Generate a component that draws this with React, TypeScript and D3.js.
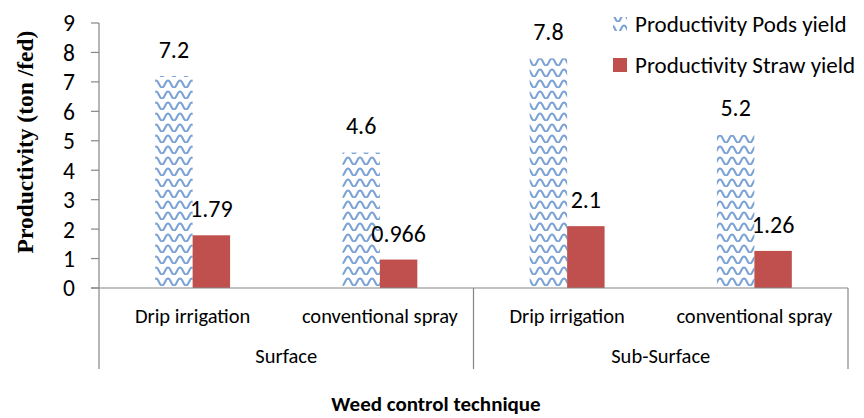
import React, { useEffect, useRef } from "react";
import * as d3 from "d3";

const categories = ["Drip irrigation", "conventional spray", "Drip irrigation", "conventional spray"];
const groups = ["Surface", "Sub-Surface"];
const podsYield = [7.2, 4.6, 7.8, 5.2];
const strawYield = [1.79, 0.966, 2.1, 1.26];
const podsLabels = ["7.2", "4.6", "7.8", "5.2"];
const strawLabels = ["1.79", "0.966", "2.1", "1.26"];
const yTicks = [0, 1, 2, 3, 4, 5, 6, 7, 8, 9];
const seriesNames = ["Productivity Pods yield", "Productivity Straw yield"];

const W = 864;
const H = 418;
const FONT = "Carlito, Lato, 'Open Sans', sans-serif";

export default function App() {
  const ref = useRef<SVGSVGElement>(null);

  useEffect(() => {
    document.body.style.margin = "0";
    const svg = d3.select(ref.current);
    svg.selectAll("*").remove();

    const left = 99, right = 848, top = 23, bottom = 288, axisBottom = 369;
    const y = d3.scaleLinear().domain([0, 9]).range([bottom, top]);
    const x = d3.scaleBand<number>().domain(d3.range(categories.length)).range([left, right]).padding(0);
    const bw = x.bandwidth() / 5;

    const defs = svg.append("defs");
    const pat = defs.append("pattern")
      .attr("id", "wave")
      .attr("patternUnits", "userSpaceOnUse")
      .attr("width", 12)
      .attr("height", 11);
    pat.append("rect").attr("width", 12).attr("height", 11).attr("fill", "#fff");
    pat.append("path")
      .attr("d", "M-3,7 Q0,0 3,7 T9,7 T15,7")
      .attr("fill", "none")
      .attr("stroke", "#7ba2d4")
      .attr("stroke-width", 2);

    const axisColor = "#868686";

    // bars
    const g = svg.append("g");
    g.selectAll("rect.pods")
      .data(podsYield)
      .join("rect")
      .attr("class", "pods")
      .attr("x", (_, i) => x(i)! + x.bandwidth() / 2 - bw)
      .attr("y", d => y(d))
      .attr("width", bw)
      .attr("height", d => y(0) - y(d))
      .attr("fill", "url(#wave)");
    g.selectAll("rect.straw")
      .data(strawYield)
      .join("rect")
      .attr("class", "straw")
      .attr("x", (_, i) => x(i)! + x.bandwidth() / 2)
      .attr("y", d => y(d))
      .attr("width", bw)
      .attr("height", d => y(0) - y(d))
      .attr("fill", "#c0504d");

    // data labels
    g.selectAll("text.pl")
      .data(podsYield)
      .join("text")
      .attr("x", (_, i) => x(i)! + x.bandwidth() / 2 - bw / 2)
      .attr("y", d => y(d) - 18.5)
      .attr("text-anchor", "middle")
      .attr("font-family", FONT)
      .attr("font-size", 24)
      .attr("fill", "#000")
      .text((_, i) => podsLabels[i]);
    g.selectAll("text.sl")
      .data(strawYield)
      .join("text")
      .attr("x", (_, i) => x(i)! + x.bandwidth() / 2 + bw / 2)
      .attr("y", d => y(d) - 18)
      .attr("text-anchor", "middle")
      .attr("font-family", FONT)
      .attr("font-size", 24)
      .attr("fill", "#000")
      .text((_, i) => strawLabels[i]);

    // y axis
    const ya = svg.append("g").attr("transform", `translate(${left},0)`);
    ya.append("line").attr("x1", 0).attr("x2", 0).attr("y1", top).attr("y2", axisBottom).attr("stroke", axisColor).attr("stroke-width", 1.2);
    ya.selectAll("line.t").data(yTicks).join("line")
      .attr("class", "t")
      .attr("x1", -8).attr("x2", 0).attr("y1", d => y(d)).attr("y2", d => y(d))
      .attr("stroke", axisColor).attr("stroke-width", 1.2);
    ya.selectAll("text").data(yTicks).join("text")
      .attr("x", -24).attr("y", d => y(d)).attr("dy", "0.36em")
      .attr("text-anchor", "end")
      .attr("font-family", FONT).attr("font-size", 23.5).attr("fill", "#000")
      .text(d => String(d));

    // x axis
    svg.append("line").attr("x1", left - 8).attr("x2", right).attr("y1", bottom).attr("y2", bottom).attr("stroke", axisColor).attr("stroke-width", 1.2);
    const mid = x(2)!;
    [mid, right].forEach(px => {
      svg.append("line").attr("x1", px).attr("x2", px).attr("y1", bottom).attr("y2", axisBottom).attr("stroke", axisColor).attr("stroke-width", 1.2);
    });
    svg.selectAll("text.cat").data(categories).join("text")
      .attr("class", "cat")
      .attr("x", (_, i) => x(i)! + x.bandwidth() / 2)
      .attr("y", 323)
      .attr("text-anchor", "middle")
      .attr("font-family", FONT).attr("font-size", 20.5).attr("fill", "#000")
      .text(d => d);
    svg.selectAll("text.grp").data(groups).join("text")
      .attr("class", "grp")
      .attr("x", (_, i) => (x(i * 2)! + x(i * 2 + 1)! + x.bandwidth()) / 2)
      .attr("y", 363)
      .attr("text-anchor", "middle")
      .attr("font-family", FONT).attr("font-size", 20.5).attr("fill", "#000")
      .text(d => d);

    // axis titles
    svg.append("text")
      .attr("transform", `translate(33,142) rotate(-90)`)
      .attr("text-anchor", "middle")
      .attr("font-family", "'Liberation Serif', 'DejaVu Serif', serif")
      .attr("font-weight", "bold")
      .attr("font-size", 23.5)
      .attr("fill", "#000")
      .text("Productivity (ton /fed)");
    svg.append("text")
      .attr("x", 436).attr("y", 411)
      .attr("text-anchor", "middle")
      .attr("font-family", FONT)
      .attr("font-weight", "bold")
      .attr("font-size", 21)
      .attr("fill", "#000")
      .text("Weed control technique");

    // legend
    const lg = svg.append("g");
    const items = [
      { name: seriesNames[0], fill: "url(#wave)", y: 17, base: 32 },
      { name: seriesNames[1], fill: "#c0504d", y: 58, base: 72.5 },
    ];
    items.forEach(it => {
      lg.append("rect").attr("x", 613).attr("y", it.y).attr("width", 14).attr("height", 14).attr("fill", it.fill);
      lg.append("text").attr("x", 635).attr("y", it.base)
        .attr("font-family", FONT).attr("font-size", 23).attr("fill", "#000")
        .text(it.name);
    });
  }, []);

  return (
    <svg ref={ref} width={W} height={H} style={{ position: "absolute", left: 0, top: 0, background: "#fff" }} />
  );
}
